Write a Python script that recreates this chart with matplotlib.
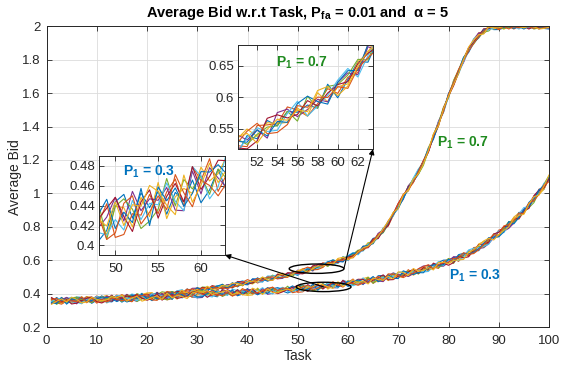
import numpy as np
import matplotlib
matplotlib.use('Agg')
import matplotlib.pyplot as plt
from matplotlib.patches import Ellipse

plt.rcParams['font.family'] = ['Liberation Sans', 'DejaVu Sans']
plt.rcParams['mathtext.fontset'] = 'custom'
plt.rcParams['mathtext.rm'] = 'Liberation Sans:bold'
plt.rcParams['mathtext.it'] = 'Liberation Sans:bold'
plt.rcParams['mathtext.bf'] = 'Liberation Sans:bold'
plt.rcParams['mathtext.default'] = 'rm'

# tareas 1..100
task = np.arange(1, 101)

# bid promedio P1 = 0.7 (curva media)
bid_p07 = [0.358, 0.359, 0.360, 0.361, 0.362, 0.363, 0.365, 0.366, 0.368, 0.370,
           0.371, 0.373, 0.375, 0.376, 0.378, 0.380, 0.382, 0.384, 0.386, 0.388,
           0.390, 0.392, 0.395, 0.397, 0.400, 0.404, 0.408, 0.412, 0.416, 0.420,
           0.424, 0.428, 0.432, 0.436, 0.440, 0.445, 0.450, 0.456, 0.462, 0.468,
           0.473, 0.479, 0.484, 0.490, 0.495, 0.501, 0.507, 0.513, 0.519, 0.525,
           0.534, 0.543, 0.551, 0.560, 0.569, 0.578, 0.586, 0.595, 0.605, 0.615,
           0.630, 0.648, 0.668, 0.690, 0.715, 0.745, 0.780, 0.820, 0.870, 0.925,
           0.980, 1.030, 1.080, 1.130, 1.180, 1.260, 1.340, 1.420, 1.500, 1.580,
           1.660, 1.730, 1.800, 1.860, 1.910, 1.945, 1.970, 1.985, 1.993, 1.997,
           1.999, 2.000, 2.000, 2.000, 2.000, 2.000, 2.000, 2.000, 2.000, 2.000]

# bid promedio P1 = 0.3
bid_p03 = [0.356, 0.356, 0.357, 0.357, 0.358, 0.359, 0.360, 0.361, 0.362, 0.363,
           0.364, 0.365, 0.366, 0.368, 0.369, 0.370, 0.372, 0.373, 0.375, 0.376,
           0.378, 0.380, 0.381, 0.383, 0.385, 0.387, 0.389, 0.391, 0.393, 0.395,
           0.397, 0.398, 0.400, 0.401, 0.403, 0.404, 0.406, 0.407, 0.409, 0.410,
           0.412, 0.413, 0.415, 0.416, 0.418, 0.420, 0.422, 0.424, 0.426, 0.428,
           0.431, 0.434, 0.437, 0.440, 0.443, 0.447, 0.451, 0.455, 0.459, 0.463,
           0.467, 0.470, 0.474, 0.478, 0.482, 0.487, 0.492, 0.498, 0.504, 0.510,
           0.516, 0.523, 0.530, 0.537, 0.545, 0.553, 0.562, 0.571, 0.580, 0.590,
           0.601, 0.613, 0.625, 0.641, 0.660, 0.677, 0.695, 0.715, 0.737, 0.760,
           0.785, 0.811, 0.838, 0.866, 0.895, 0.930, 0.965, 1.005, 1.045, 1.090]

# desvio de cada corrida (digitos 0-9, centrados en 4.5)
dev_p07 = [
    "4736251908 5462718390 2657381940 5173829046 3918276450 6283745190 4715938260 3820574619 5647382910 2938475610",
    "6194827350 3729058146 8150364927 2496173805 7038259164 1864950372 5291736048 9043618257 1375294860 6807142395",
    "2581649370 7936025418 4023857169 6810937254 0465198327 9374260815 2759081436 5148792063 8613405927 0427365189",
    "9362054781 1847390625 6735204198 3091576842 8526410739 4609823517 7180395264 0952714836 3406891572 5298637041",
    "5019384726 8264071953 3597816240 9728460315 1684932507 2453709186 6827540391 4670138592 9785023164 1376480259",
    "3847902615 0518349672 7462189053 1358062794 6209783451 5731690248 9046217835 2389571604 7021956348 4860513792",
    "7205613948 4390185267 1928476305 8645230971 2571094863 0198437256 3652804179 6714923085 0268349571 8543906217",
    "1673498052 9081536724 5806742319 4267915830 9750341286 3615289407 8394061752 1526870349 4590217683 3719058426",
    "8450267139 2675943801 0349651782 7584302169 4837612095 8920174635 0431572968 7305926418 6842135790 9062781534",
    "0928175364 6153824079 9271538046 0932748615 5392067148 7046352981 1563247890 8261349075 2159760843 7685294013",
]
dev_p03 = [
    "3958172604 7216049385 0483926715 5620837149 1749563028 9384715260 2607198453 6051342897 8472605931 4139287506",
    "8204637519 1593720846 6370184952 2819450673 5762913480 0437268195 9148035726 3925614078 7061853249 5680472913",
    "5617240983 9048361257 2736509814 8351726490 0924853617 6172904538 4589317062 1803672549 3265098471 7398145206",
    "1369508427 4872613095 8591743620 0734295168 6280147359 3946571082 7413820695 5027986314 9658230147 2014759836",
    "7042895316 2685197034 5120387469 9467031852 3815624907 8501392746 1639057284 4760528139 0847361592 6923410578",
    "4781320659 6039854172 9864271530 3208519764 7593068214 1725483096 0291746358 8346105927 5139742068 0457926381",
    "9536014782 0327586941 3905612487 6042973815 8146302579 4068157293 5872469103 2681739450 1720485396 8361509724",
    "2190758346 8751402693 7248095361 1596348027 4031785692 5290846137 6745913820 9512067438 3984126750 1902634857",
    "6825439170 5164230879 1057468239 4783150296 2358947601 7813629405 3026581974 0237891564 6593014782 9548173260",
    "0473961285 3486915702 4619253078 7935682410 9607214538 2659730814 8350742619 7194350862 4206579813 3275068149",
]

colores = ['#0072BD', '#D95319', '#EDB120', '#7E2F8E', '#77AC30', '#4DBEEE', '#A2142F']


def corridas(media, devs, paso, tope):
    out = []
    for s in devs:
        d = np.array([int(c) for c in s if c.isdigit()][:100], dtype=float)
        y = np.array(media) + (d - 4.5) * paso
        out.append(np.minimum(y, tope))
    return out


runs07 = corridas(bid_p07, dev_p07, 0.0035, 2.0)
runs03 = corridas(bid_p03, dev_p03, 0.0045, 5.0)

fig = plt.figure(figsize=(5.61, 3.70), dpi=100)
W, H = 561, 370


def caja(l, t, r, b):
    return [l / W, 1 - b / H, (r - l) / W, (b - t) / H]


def estilo(a, ypad=3.5):
    a.grid(True, color='#dcdcdc', lw=0.6)
    a.set_axisbelow(True)
    a.tick_params(direction='in', top=True, right=True, length=3.5, width=0.6,
                  colors='#262626', labelsize=9.5)
    a.tick_params(axis='x', pad=6)
    a.tick_params(axis='y', pad=ypad)
    for sp in a.spines.values():
        sp.set_color('#262626')
        sp.set_linewidth(0.7)


ax = fig.add_axes(caja(46.5, 26.4, 549, 327))
for i in range(10):
    ax.plot(task, runs07[i], color=colores[i % 7], lw=0.8)
for i in range(10):
    ax.plot(task, runs03[i], color=colores[i % 7], lw=0.8)
ax.set_xlim(0, 100)
ax.set_ylim(0.2, 2)
ax.set_xticks(np.arange(0, 101, 10))
ax.set_yticks(np.arange(0.2, 2.01, 0.2))
ax.set_yticklabels(['0.2', '0.4', '0.6', '0.8', '1', '1.2', '1.4', '1.6', '1.8', '2'])
estilo(ax, ypad=4)
ax.set_xlabel('Task', fontsize=10, color='#262626', labelpad=1)
ax.set_ylabel('Average Bid', fontsize=10, color='#262626', labelpad=0)
ax.set_title('Average Bid w.r.t Task, P$_{fa}$ = 0.01 and  \u03b1 = 5',
             fontsize=10.5, fontweight='bold', pad=7)

ax.text(77.7, 1.3, 'P$_1$ = 0.7', color='#1f8a1f', fontsize=10, fontweight='bold', va='center')
ax.text(80.1, 0.505, 'P$_1$ = 0.3', color='#0072BD', fontsize=10, fontweight='bold', va='center')

ax.add_patch(Ellipse((53.75, 0.549), 10.9, 0.056, fill=False, ec='k', lw=1, zorder=5))
ax.add_patch(Ellipse((55.15, 0.44), 10.9, 0.056, fill=False, ec='k', lw=1, zorder=5))

# inset P1 = 0.3
ins1 = fig.add_axes(caja(99, 156, 225, 255))
for i in range(10):
    ins1.plot(task, runs03[i], color=colores[i % 7], lw=0.8)
ins1.set_xlim(48.1, 62.8)
ins1.set_ylim(0.39, 0.49)
ins1.set_xticks([50, 55, 60])
ins1.set_yticks([0.4, 0.42, 0.44, 0.46, 0.48])
ins1.set_yticklabels(['0.4', '0.42', '0.44', '0.46', '0.48'])
estilo(ins1, ypad=3)
ins1.text(50.9, 0.4745, 'P$_1$ = 0.3', color='#0072BD', fontsize=10, fontweight='bold', va='center')

# inset P1 = 0.7
ins2 = fig.add_axes(caja(238, 45, 373, 149))
for i in range(10):
    ins2.plot(task, runs07[i], color=colores[i % 7], lw=0.8)
ins2.set_xlim(50.1, 63.5)
ins2.set_ylim(0.518, 0.683)
ins2.set_xticks([52, 54, 56, 58, 60, 62])
ins2.set_yticks([0.55, 0.6, 0.65])
ins2.set_yticklabels(['0.55', '0.6', '0.65'])
estilo(ins2, ypad=3)
ins2.text(53.9, 0.655, 'P$_1$ = 0.7', color='#1f8a1f', fontsize=10, fontweight='bold', va='center')

flecha = dict(arrowstyle='-|>', color='k', lw=0.8, mutation_scale=8, shrinkA=0, shrinkB=0)
ax.annotate('', xy=(1, 0), xycoords=ins1.transAxes, xytext=(55.15, 0.44),
            textcoords='data', arrowprops=flecha, annotation_clip=False)
ax.annotate('', xy=(1, 0), xycoords=ins2.transAxes, xytext=(59.2, 0.551),
            textcoords='data', arrowprops=flecha, annotation_clip=False)

fig.savefig('out.png', dpi=100)
